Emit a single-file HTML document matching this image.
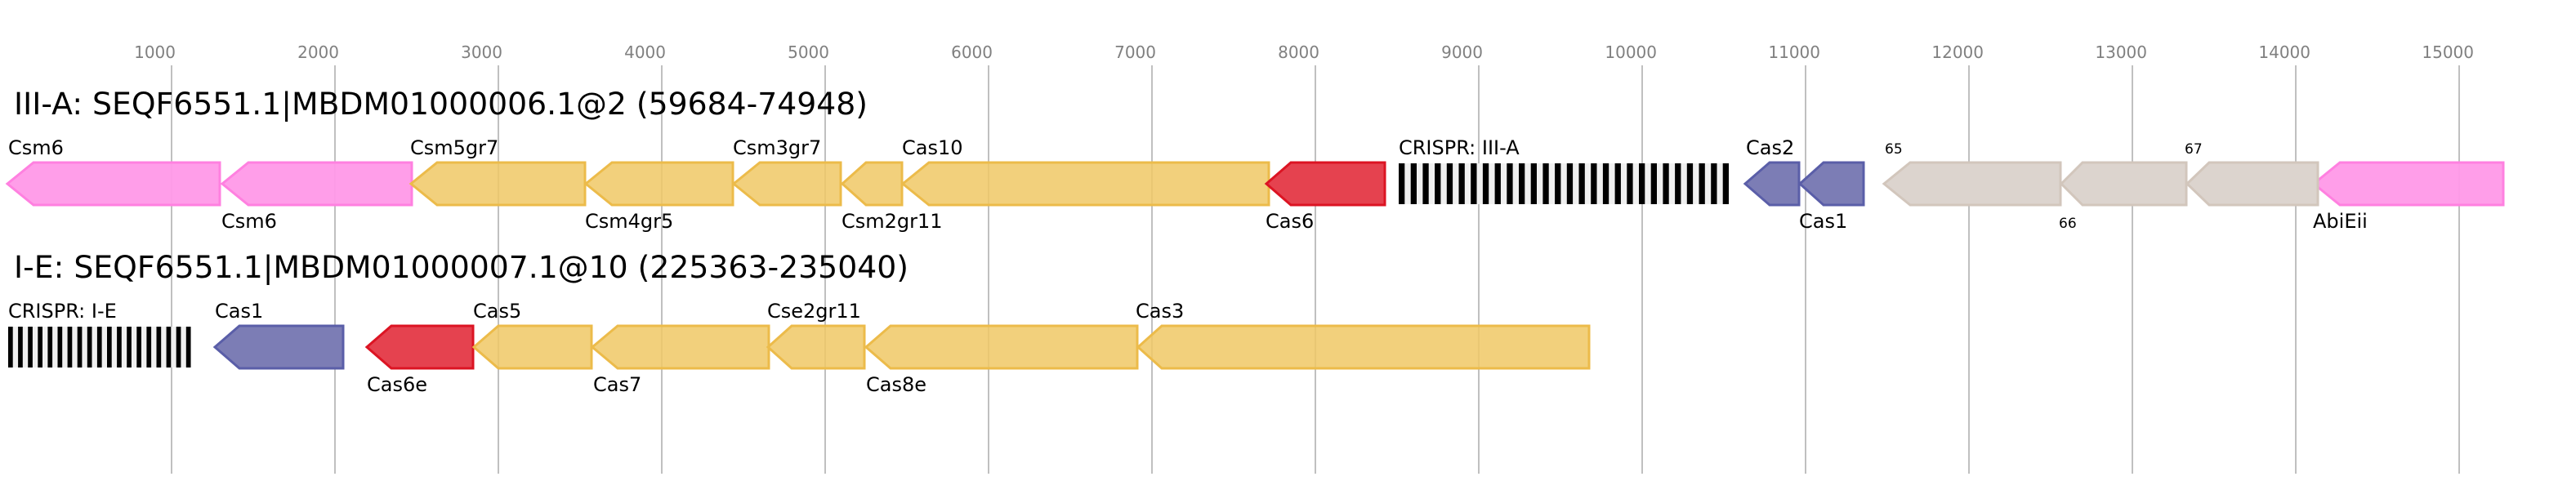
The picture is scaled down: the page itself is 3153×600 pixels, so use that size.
<!DOCTYPE html>
<html><head><meta charset="utf-8"><style>html,body{margin:0;padding:0;background:#fff}svg{display:block}</style></head>
<body>
<svg width="3153" height="600" viewBox="0 0 3153 600" xmlns="http://www.w3.org/2000/svg" font-family="'DejaVu Sans','Liberation Sans',sans-serif">
<g stroke="#c0c0c0" stroke-width="2">
<line x1="210" y1="80" x2="210" y2="580"/><line x1="410" y1="80" x2="410" y2="580"/><line x1="610" y1="80" x2="610" y2="580"/><line x1="810" y1="80" x2="810" y2="580"/><line x1="1010" y1="80" x2="1010" y2="580"/><line x1="1210" y1="80" x2="1210" y2="580"/><line x1="1410" y1="80" x2="1410" y2="580"/><line x1="1610" y1="80" x2="1610" y2="580"/><line x1="1810" y1="80" x2="1810" y2="580"/><line x1="2010" y1="80" x2="2010" y2="580"/><line x1="2210" y1="80" x2="2210" y2="580"/><line x1="2410" y1="80" x2="2410" y2="580"/><line x1="2610" y1="80" x2="2610" y2="580"/><line x1="2810" y1="80" x2="2810" y2="580"/><line x1="3010" y1="80" x2="3010" y2="580"/>
</g>
<g fill="#808080" font-size="20" text-anchor="end">
<text x="215" y="71">1000</text><text x="415" y="71">2000</text><text x="615" y="71">3000</text><text x="815" y="71">4000</text><text x="1015" y="71">5000</text><text x="1215" y="71">6000</text><text x="1415" y="71">7000</text><text x="1615" y="71">8000</text><text x="1815" y="71">9000</text><text x="2028" y="71">10000</text><text x="2228" y="71">11000</text><text x="2428" y="71">12000</text><text x="2628" y="71">13000</text><text x="2828" y="71">14000</text><text x="3028" y="71">15000</text>
</g>
<text x="17" y="140" font-size="37" fill="#000" textLength="1045" lengthAdjust="spacingAndGlyphs">III-A: SEQF6551.1|MBDM01000006.1@2 (59684-74948)</text>
<text x="17" y="340" font-size="37" fill="#000" textLength="1095" lengthAdjust="spacingAndGlyphs">I-E: SEQF6551.1|MBDM01000007.1@10 (225363-235040)</text>

<g stroke-width="3" stroke-linejoin="miter">
<g fill="#ff99e8" stroke="#ff80e0" fill-opacity="0.95">
<polygon points="9,225 41,199 269,199 269,251 41,251"/>
<polygon points="272,225 304,199 504,199 504,251 304,251"/>
<polygon points="2832,225 2864,199 3064,199 3064,251 2864,251"/>
</g>
<g fill="#f0c865" fill-opacity="0.85" stroke="#ecbb4a">
<polygon points="503,225 535,199 716,199 716,251 535,251"/>
<polygon points="717,225 749,199 897,199 897,251 749,251"/>
<polygon points="898,225 930,199 1029,199 1029,251 930,251"/>
<polygon points="1031,225 1060,199 1104,199 1104,251 1060,251"/>
<polygon points="1105,225 1137,199 1553,199 1553,251 1137,251"/>
</g>
<g fill="#e5424f" stroke="#dc1423"><polygon points="1550,225 1580,199 1695,199 1695,251 1580,251"/></g>
<g fill="#7c7db5" stroke="#5a5ea8">
<polygon points="2136,225 2166,199 2202,199 2202,251 2166,251"/>
<polygon points="2203,225 2232,199 2281,199 2281,251 2232,251"/>
</g>
<g fill="#dcd4ce" stroke="#d2c6bc">
<polygon points="2306,225 2338,199 2522,199 2522,251 2338,251"/>
<polygon points="2523,225 2549,199 2676,199 2676,251 2549,251"/>
<polygon points="2677,225 2704,199 2837,199 2837,251 2704,251"/>
</g>
<g fill="#7c7db5" stroke="#5a5ea8"><polygon points="263,425 293,399 420,399 420,451 293,451"/></g>
<g fill="#e5424f" stroke="#dc1423"><polygon points="449,425 479,399 579,399 579,451 479,451"/></g>
<g fill="#f0c865" fill-opacity="0.85" stroke="#ecbb4a">
<polygon points="580,425 610,399 724,399 724,451 610,451"/>
<polygon points="725,425 756,399 941,399 941,451 756,451"/>
<polygon points="940,425 969,399 1058,399 1058,451 969,451"/>
<polygon points="1060,425 1090,399 1392,399 1392,451 1090,451"/>
<polygon points="1393,425 1422,399 1945,399 1945,451 1422,451"/>
</g>
</g>

<rect x="1712" y="200" width="404" height="50" fill="#f0f0f0"/>
<g fill="#000">
<rect x="1712" y="200" width="7.3" height="50"/><rect x="1726.7" y="200" width="7.3" height="50"/><rect x="1741.4" y="200" width="7.3" height="50"/><rect x="1756.1" y="200" width="7.3" height="50"/><rect x="1770.8" y="200" width="7.3" height="50"/><rect x="1785.5" y="200" width="7.3" height="50"/><rect x="1800.2" y="200" width="7.3" height="50"/><rect x="1814.9" y="200" width="7.3" height="50"/><rect x="1829.6" y="200" width="7.3" height="50"/><rect x="1844.3" y="200" width="7.3" height="50"/><rect x="1859" y="200" width="7.3" height="50"/><rect x="1873.7" y="200" width="7.3" height="50"/><rect x="1888.4" y="200" width="7.3" height="50"/><rect x="1903.1" y="200" width="7.3" height="50"/><rect x="1917.8" y="200" width="7.3" height="50"/><rect x="1932.5" y="200" width="7.3" height="50"/><rect x="1947.2" y="200" width="7.3" height="50"/><rect x="1961.9" y="200" width="7.3" height="50"/><rect x="1976.6" y="200" width="7.3" height="50"/><rect x="1991.3" y="200" width="7.3" height="50"/><rect x="2006" y="200" width="7.3" height="50"/><rect x="2020.7" y="200" width="7.3" height="50"/><rect x="2035.4" y="200" width="7.3" height="50"/><rect x="2050.1" y="200" width="7.3" height="50"/><rect x="2064.8" y="200" width="7.3" height="50"/><rect x="2079.5" y="200" width="7.3" height="50"/><rect x="2094.2" y="200" width="7.3" height="50"/><rect x="2108.7" y="200" width="7.3" height="50"/>
</g>
<rect x="10" y="400" width="224" height="50" fill="#f0f0f0"/>
<g fill="#000">
<rect x="10" y="400" width="5.7" height="50"/><rect x="22.1" y="400" width="5.7" height="50"/><rect x="34.2" y="400" width="5.7" height="50"/><rect x="46.3" y="400" width="5.7" height="50"/><rect x="58.4" y="400" width="5.7" height="50"/><rect x="70.5" y="400" width="5.7" height="50"/><rect x="82.6" y="400" width="5.7" height="50"/><rect x="94.7" y="400" width="5.7" height="50"/><rect x="106.8" y="400" width="5.7" height="50"/><rect x="118.9" y="400" width="5.7" height="50"/><rect x="131" y="400" width="5.7" height="50"/><rect x="143.1" y="400" width="5.7" height="50"/><rect x="155.2" y="400" width="5.7" height="50"/><rect x="167.3" y="400" width="5.7" height="50"/><rect x="179.4" y="400" width="5.7" height="50"/><rect x="191.5" y="400" width="5.7" height="50"/><rect x="203.6" y="400" width="5.7" height="50"/><rect x="215.7" y="400" width="5.7" height="50"/><rect x="227.8" y="400" width="5.7" height="50"/>
</g>

<g font-size="24" fill="#000">
<text x="10" y="189">Csm6</text>
<text x="271" y="279">Csm6</text>
<text x="502" y="189">Csm5gr7</text>
<text x="716" y="279">Csm4gr5</text>
<text x="897" y="189">Csm3gr7</text>
<text x="1030" y="279">Csm2gr11</text>
<text x="1104" y="189">Cas10</text>
<text x="1549" y="279">Cas6</text>
<text x="1712" y="189">CRISPR: III-A</text>
<text x="2137" y="189">Cas2</text>
<text x="2202" y="279">Cas1</text>
<text x="2831" y="279">AbiEii</text>
<text x="10" y="389">CRISPR: I-E</text>
<text x="263" y="389">Cas1</text>
<text x="449" y="479">Cas6e</text>
<text x="579" y="389">Cas5</text>
<text x="726" y="479">Cas7</text>
<text x="939" y="389">Cse2gr11</text>
<text x="1060" y="479">Cas8e</text>
<text x="1390" y="389">Cas3</text>
</g>
<g font-size="17" fill="#000">
<text x="2307" y="188">65</text>
<text x="2520" y="279">66</text>
<text x="2674" y="188">67</text>
</g>
</svg>
</body></html>
